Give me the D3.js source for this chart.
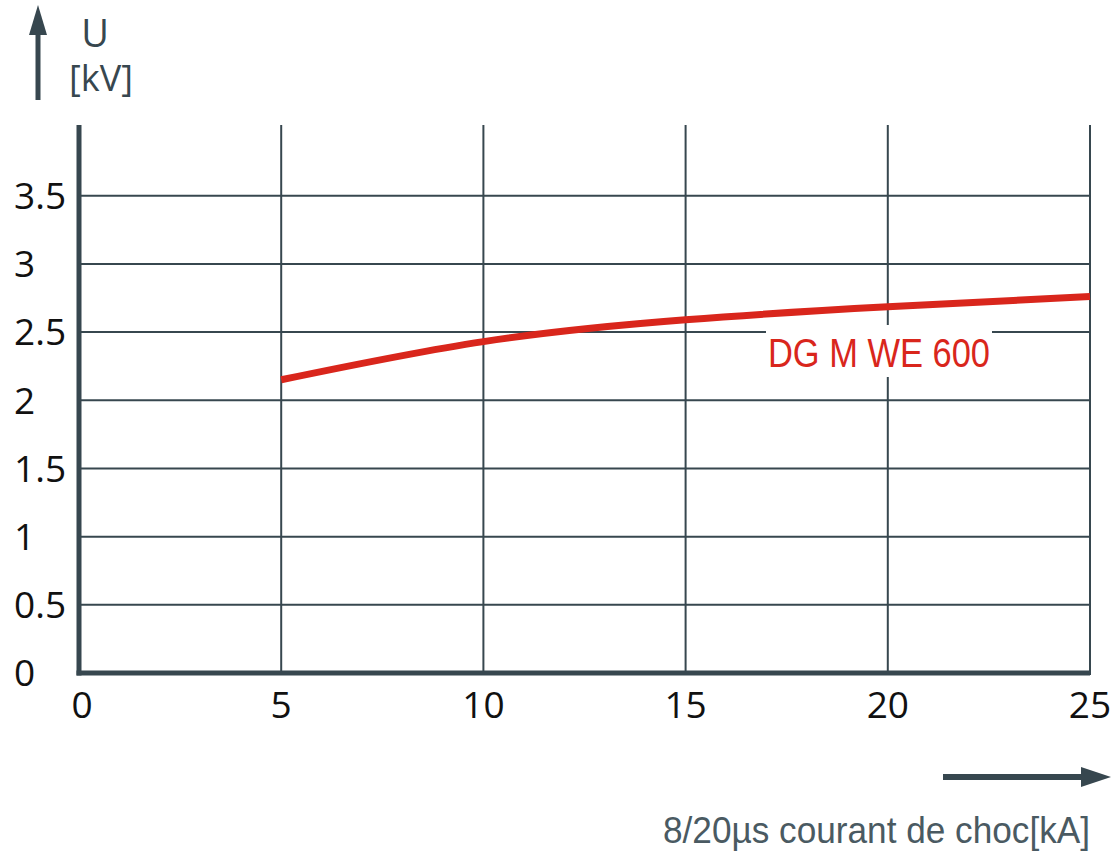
<!DOCTYPE html>
<html><head><meta charset="utf-8">
<script src="https://cdn.jsdelivr.net/npm/d3@7"></script>
<style>body{margin:0;background:#fff}svg{display:block}</style>
</head><body>
<svg id="c" width="1113" height="859"></svg>
<script>
const xTicks = [0, 5, 10, 15, 20, 25];
const yTicks = [0, 0.5, 1, 1.5, 2, 2.5, 3, 3.5];
const yTickLabels = ["0", "0.5", "1", "1.5", "2", "2.5", "3", "3.5"];
const currentKA = [5, 10, 15, 20, 25];
const voltageKV = [2.15, 2.43, 2.59, 2.685, 2.76];
const seriesName = "DG M WE 600";
const yTitle = ["U", "[kV]"];
const xTitle = "8/20µs courant de choc[kA]";

const slate = "#37474f", red = "#d9261c";
const svg = d3.select("#c");
const x = d3.scaleLinear().domain([0, 25]).range([79, 1090]);
const y = d3.scaleLinear().domain([0, 4]).range([673, 127.5]);

// horizontal gridlines
svg.append("g").selectAll("line").data(yTicks.filter(d => d > 0)).join("line")
  .attr("x1", x(0)).attr("x2", x(25)).attr("y1", d => y(d)).attr("y2", d => y(d))
  .attr("stroke", slate).attr("stroke-width", 2);
// vertical gridlines
svg.append("g").selectAll("line").data(xTicks.filter(d => d > 0)).join("line")
  .attr("x1", d => x(d)).attr("x2", d => x(d)).attr("y1", 125).attr("y2", y(0) + 2)
  .attr("stroke", slate).attr("stroke-width", 2);

// label background
svg.append("rect").attr("x", 766).attr("y", 325).attr("width", 226).attr("height", 52).attr("fill", "#fff");

// axes lines
svg.append("line").attr("x1", x(0)).attr("x2", x(0)).attr("y1", 125).attr("y2", y(0) + 2.5)
  .attr("stroke", slate).attr("stroke-width", 5);
svg.append("line").attr("x1", x(0) - 2.5).attr("x2", x(25)).attr("y1", y(0)).attr("y2", y(0))
  .attr("stroke", slate).attr("stroke-width", 5);

// tick labels
svg.append("g").selectAll("text").data(yTicks).join("text")
  .attr("x", 14).attr("y", d => y(d)).attr("dy", "0.36em")
  .attr("font-family", "Open Sans").attr("font-size", 37).attr("fill", "#111")
  .text((d, i) => yTickLabels[i]);
svg.append("g").selectAll("text").data(xTicks).join("text")
  .attr("x", d => x(d) + (d === 0 ? 3 : 0)).attr("y", 718).attr("text-anchor", "middle")
  .attr("font-family", "Open Sans").attr("font-size", 37).attr("fill", "#111")
  .text(d => d);

// curve
svg.append("path").datum(currentKA.map((d, i) => [d, voltageKV[i]]))
  .attr("d", d3.line().x(d => x(d[0])).y(d => y(d[1])).curve(d3.curveNatural))
  .attr("fill", "none").attr("stroke", red).attr("stroke-width", 7);

svg.append("text").attr("x", 768).attr("y", 367)
  .attr("font-family", "Liberation Sans Narrow, Liberation Sans").attr("font-size", 40)
  .attr("textLength", 222).attr("lengthAdjust", "spacingAndGlyphs")
  .attr("fill", red).text(seriesName);

// y arrow
svg.append("line").attr("x1", 38).attr("x2", 38).attr("y1", 100).attr("y2", 30)
  .attr("stroke", slate).attr("stroke-width", 5);
svg.append("path").attr("d", "M38,5 L47,35 L29,35 Z").attr("fill", slate);
svg.append("text").attr("x", 95).attr("y", 47).attr("text-anchor", "middle")
  .attr("font-family", "Open Sans").attr("font-size", 38).attr("fill", slate).text(yTitle[0]);
svg.append("text").attr("x", 101).attr("y", 91).attr("text-anchor", "middle")
  .attr("font-family", "Open Sans").attr("font-size", 36).attr("fill", slate).text(yTitle[1]);

// x arrow
svg.append("line").attr("x1", 943).attr("x2", 1085).attr("y1", 777).attr("y2", 777)
  .attr("stroke", slate).attr("stroke-width", 6);
svg.append("path").attr("d", "M1111,777 L1081,767 L1081,787 Z").attr("fill", slate);
svg.append("text").attr("x", 663).attr("y", 843)
  .attr("font-family", "Liberation Sans Narrow, Liberation Sans").attr("font-size", 37)
  .attr("textLength", 427).attr("lengthAdjust", "spacingAndGlyphs")
  .attr("fill", "#4a5a62").text(xTitle);
</script>
</body></html>
